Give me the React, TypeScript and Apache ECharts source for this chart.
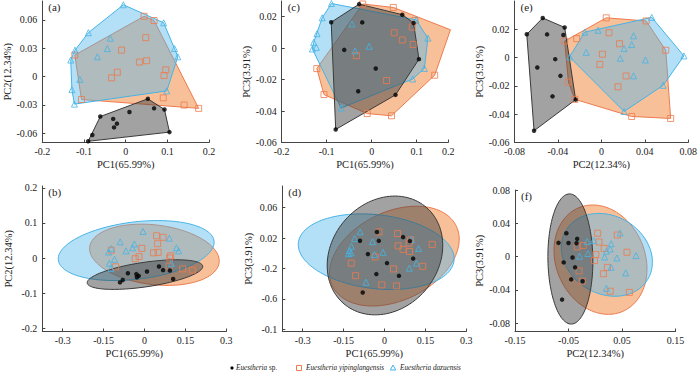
import React, { useEffect, useRef } from "react";
import * as echarts from "echarts";

// ---------- data: PC scores ----------
// Euestheria sp.
const spPC1 = [-0.028, 0.068, 0.093, -0.09, -0.021, 0.105, -0.061, 0.009, -0.03, 0.053, -0.08];
const spPC2 = [-0.054, -0.0338, -0.035, -0.0687, -0.05, -0.059, -0.0425, -0.0377, -0.045, -0.0237, -0.062];
const spPC3 = [0.028, 0.0213, 0.016, 0.0165, 0.0164, -0.007, -0.0011, -0.0129, -0.0274, -0.0297, -0.0517];
// Euestheria yipinglangensis
const yiPC1 = [0.044, 0.068, 0.048, -0.01, 0.033, 0.05, 0.096, 0.092, -0.02, -0.034, -0.122, -0.106, 0.09, 0.14, 0.175];
const yiPC2 = [0.0638, 0.0593, 0.0412, 0.0279, 0.0153, 0.0167, 0.007, 0.001, 0.0045, -0.0014, 0.0227, -0.0244, -0.0227, -0.0303, -0.0338];
const yiPC3 = [-0.043, 0.0052, 0.0259, -0.0416, -0.0206, 0.0098, 0.0176, 0.0024, 0.0281, -0.0048, -0.013, -0.0295, 0.0134, -0.0172, 0.0117];
// Euestheria dazuensis
const daPC1 = [-0.0056, 0.091, -0.0895, -0.037, -0.044, -0.068, -0.1215, -0.1318, 0.117, 0.125, -0.11, -0.129, -0.123, 0.0985];
const daPC2 = [0.076, 0.0569, 0.0464, 0.0405, 0.0296, 0.0209, 0.0279, 0.0174, 0.0296, 0.0209, -0.0031, -0.014, -0.0293, -0.0153];
const daPC3 = [0.0012, -0.0196, 0.0284, -0.0017, 0.0154, -0.0381, 0.0092, -0.0005, -0.0129, 0.0064, 0.0193, 0.0037, 0.0005, 0.018];

// ---------- tick values and labels ----------
const aXTicks = [-0.2, -0.1, 0, 0.1, 0.2];
const aXLabels = ["-0.2", "-0.1", "0", "0.1", "0.2"];
const aYTicks = [-0.06, -0.03, 0, 0.03, 0.06];
const aYLabels = ["-0.06", "-0.03", "0", "0.03", "0.06"];
const cXTicks = [-0.2, -0.1, 0, 0.1, 0.17];
const cXLabels = ["-0.2", "-0.1", "0", "0.1", "0.2"];
const cYTicks = [-0.06, -0.04, -0.02, 0, 0.02];
const cYLabels = ["-0.06", "-0.04", "-0.02", "0", "0.02"];
const eXTicks = [-0.08, -0.04, 0, 0.04, 0.08];
const eXLabels = ["-0.08", "-0.04", "0", "0.04", "0.08"];
const eYTicks = [-0.06, -0.04, -0.02, 0, 0.02];
const eYLabels = ["-0.06", "-0.04", "-0.02", "0", "0.02"];
const bXTicks = [-0.3, -0.15, 0, 0.15, 0.3];
const bXLabels = ["-0.3", "-0.15", "0", "0.15", "0.3"];
const bYTicks = [-0.2, -0.1, 0, 0.1, 0.2];
const bYLabels = ["-0.2", "-0.1", "0", "0.1", "0.2"];
const dYTicks = [-0.1, -0.06, -0.02, 0.02, 0.06];
const dYLabels = ["-0.1", "-0.6", "-0.2", "0.02", "0.06"];
const fXTicks = [-0.15, -0.05, 0.05, 0.15];
const fXLabels = ["-0.15", "-0.05", "0.05", "0.15"];
const fYTicks = [-0.08, -0.04, 0, 0.04, 0.08];
const fYLabels = ["-0.08", "-0.04", "0", "0.04", "0.08"];

const speciesNames = ["Euestheria sp.", "Euestheria yipinglangensis", "Euestheria dazuensis"];

const FONT = '"Liberation Serif", "Times New Roman", serif';
const ORANGE = "#EE7B4D";
const BLUE = "#45B4E6";
const TEXT = "#222";
const AXIS = "#444";

type Sp = {
  name: string;
  pcs: number[][];
  symbol: string;
  size: number;
  item: any;
  stroke: string;
  fill: string;
};

// drawing order: orange, blue, black
const species: Sp[] = [
  {
    name: speciesNames[1],
    pcs: [yiPC1, yiPC2, yiPC3],
    symbol: "rect",
    size: 6,
    item: { color: "rgba(0,0,0,0)", borderColor: ORANGE, borderWidth: 1 },
    stroke: ORANGE,
    fill: "rgba(242,135,60,0.52)",
  },
  {
    name: speciesNames[2],
    pcs: [daPC1, daPC2, daPC3],
    symbol: "triangle",
    size: 6,
    item: { color: "rgba(0,0,0,0)", borderColor: BLUE, borderWidth: 1 },
    stroke: BLUE,
    fill: "rgba(75,180,235,0.42)",
  },
  {
    name: speciesNames[0],
    pcs: [spPC1, spPC2, spPC3],
    symbol: "circle",
    size: 4.5,
    item: { color: "#000" },
    stroke: "#3a3a3a",
    fill: "rgba(60,60,60,0.48)",
  },
];

function convexHull(pts: number[][]) {
  const p = pts.slice().sort((a, b) => a[0] - b[0] || a[1] - b[1]);
  const cross = (o: number[], a: number[], b: number[]) =>
    (a[0] - o[0]) * (b[1] - o[1]) - (a[1] - o[1]) * (b[0] - o[0]);
  const lower: number[][] = [];
  for (const q of p) {
    while (lower.length >= 2 && cross(lower[lower.length - 2], lower[lower.length - 1], q) <= 0) lower.pop();
    lower.push(q);
  }
  const upper: number[][] = [];
  for (let i = p.length - 1; i >= 0; i--) {
    const q = p[i];
    while (upper.length >= 2 && cross(upper[upper.length - 2], upper[upper.length - 1], q) <= 0) upper.pop();
    upper.push(q);
  }
  upper.pop();
  lower.pop();
  return lower.concat(upper);
}

// 95% ellipse (F-distribution based, as in PAST)
function ellipsePts(xs: number[], ys: number[], steps = 120) {
  const n = xs.length;
  const mx = xs.reduce((s, v) => s + v, 0) / n;
  const my = ys.reduce((s, v) => s + v, 0) / n;
  let sxx = 0, syy = 0, sxy = 0;
  for (let i = 0; i < n; i++) {
    sxx += (xs[i] - mx) ** 2;
    syy += (ys[i] - my) ** 2;
    sxy += (xs[i] - mx) * (ys[i] - my);
  }
  sxx /= n - 1; syy /= n - 1; sxy /= n - 1;
  const m = n - 2;
  const F = (m / 2) * (Math.pow(0.05, -2 / m) - 1);
  const k = Math.sqrt(((2 * (n - 1)) / (n - 2)) * F);
  const tr = (sxx + syy) / 2;
  const d = Math.sqrt(((sxx - syy) / 2) ** 2 + sxy ** 2);
  const l1 = tr + d, l2 = Math.max(tr - d, 0);
  const th = 0.5 * Math.atan2(2 * sxy, sxx - syy);
  const a = k * Math.sqrt(l1), b = k * Math.sqrt(l2);
  const out: number[][] = [];
  for (let i = 0; i < steps; i++) {
    const t = (2 * Math.PI * i) / steps;
    out.push([
      mx + a * Math.cos(t) * Math.cos(th) - b * Math.sin(t) * Math.sin(th),
      my + a * Math.cos(t) * Math.sin(th) + b * Math.sin(t) * Math.cos(th),
    ]);
  }
  return out;
}

type Panel = {
  label: string; left: number; top: number; width: number; height: number;
  xMin: number; xMax: number; yMin: number; yMax: number;
  xTicks: number[]; xLabels: string[]; yTicks: number[]; yLabels: string[];
  xi: number; yi: number; xName: string; yName: string; kind: "hull" | "ellipse";
};

const panels: Panel[] = [
  { label: "(a)", left: 42.3, top: 1, width: 166.8, height: 141.5, xMin: -0.2, xMax: 0.2, yMin: -0.07, yMax: 0.08,
    xTicks: aXTicks, xLabels: aXLabels, yTicks: aYTicks, yLabels: aYLabels, xi: 0, yi: 1, xName: "PC1(65.99%)", yName: "PC2(12.34%)", kind: "hull" },
  { label: "(c)", left: 281.7, top: 1, width: 166.5, height: 141.5, xMin: -0.2, xMax: 0.17, yMin: -0.06, yMax: 0.03,
    xTicks: cXTicks, xLabels: cXLabels, yTicks: cYTicks, yLabels: cYLabels, xi: 0, yi: 2, xName: "PC1(65.99%)", yName: "PC3(3.91%)", kind: "hull" },
  { label: "(e)", left: 514.5, top: 1, width: 181.4, height: 141.5, xMin: -0.08, xMax: 0.08, yMin: -0.06, yMax: 0.04,
    xTicks: eXTicks, xLabels: eXLabels, yTicks: eYTicks, yLabels: eYLabels, xi: 1, yi: 2, xName: "PC2(12.34%)", yName: "PC3(3.91%)", kind: "hull" },
  { label: "(b)", left: 42.3, top: 186, width: 184, height: 145.5, xMin: -0.375, xMax: 0.3, yMin: -0.208, yMax: 0.205,
    xTicks: bXTicks, xLabels: bXLabels, yTicks: bYTicks, yLabels: bYLabels, xi: 0, yi: 1, xName: "PC1(65.99%)", yName: "PC2(12.34%)", kind: "ellipse" },
  { label: "(d)", left: 282.3, top: 186, width: 184, height: 145.5, xMin: -0.375, xMax: 0.3, yMin: -0.103, yMax: 0.0886,
    xTicks: bXTicks, xLabels: bXLabels, yTicks: dYTicks, yLabels: dYLabels, xi: 0, yi: 2, xName: "PC1(65.99%)", yName: "PC3(3.91%)", kind: "ellipse" },
  { label: "(f)", left: 515, top: 190, width: 160.5, height: 141.5, xMin: -0.15, xMax: 0.15, yMin: -0.09, yMax: 0.08,
    xTicks: fXTicks, xLabels: fXLabels, yTicks: fYTicks, yLabels: fYLabels, xi: 1, yi: 2, xName: "PC2(12.34%)", yName: "PC3(3.91%)", kind: "ellipse" },
];

function fmt(ticks: number[], labels: string[]) {
  return (v: number) => {
    const i = ticks.findIndex((t) => Math.abs(t - v) < 1e-9);
    return i >= 0 ? labels[i] : "";
  };
}

function buildOption() {
  const grid: any[] = [];
  const xAxis: any[] = [];
  const yAxis: any[] = [];
  const series: any[] = [];
  const graphic: any[] = [];

  panels.forEach((p, gi) => {
    grid.push({ left: p.left, top: p.top, width: p.width, height: p.height });
    const common = (ticks: number[], labels: string[]) => ({
      axisLine: { show: true, onZero: false, lineStyle: { color: AXIS, width: 1 } },
      axisTick: { show: true, inside: true, length: 3, customValues: ticks, lineStyle: { color: AXIS } },
      axisLabel: { customValues: ticks, formatter: fmt(ticks, labels), fontFamily: FONT, fontSize: 10, color: TEXT },
      splitLine: { show: false },
      nameLocation: "middle",
      nameTextStyle: { fontFamily: FONT, fontSize: 10.5, color: TEXT },
    });
    const xa: any = { type: "value", gridIndex: gi, min: p.xMin, max: p.xMax, name: p.xName, nameGap: 16, ...common(p.xTicks, p.xLabels) };
    xa.axisLabel.margin = 4;
    const ya: any = { type: "value", gridIndex: gi, min: p.yMin, max: p.yMax, name: p.yName, nameGap: 28, ...common(p.yTicks, p.yLabels) };
    ya.axisLabel.margin = 5;
    xAxis.push(xa);
    yAxis.push(ya);

    species.forEach((s) => {
      const xs = s.pcs[p.xi];
      const ys = s.pcs[p.yi];
      const shape = p.kind === "hull" ? convexHull(xs.map((v, i) => [v, ys[i]])) : ellipsePts(xs, ys);
      series.push({
        type: "custom",
        xAxisIndex: gi,
        yAxisIndex: gi,
        silent: true,
        data: [[xs[0], ys[0]]],
        renderItem: (_params: any, api: any) => ({
          type: "polygon",
          shape: { points: shape.map((q) => api.coord(q)) },
          style: { fill: s.fill, stroke: s.stroke, lineWidth: 1 },
        }),
      });
    });
    species.forEach((s) => {
      const xs = s.pcs[p.xi];
      const ys = s.pcs[p.yi];
      series.push({
        type: "scatter",
        name: s.name,
        xAxisIndex: gi,
        yAxisIndex: gi,
        silent: true,
        symbol: s.symbol,
        symbolSize: s.size,
        itemStyle: s.item,
        data: xs.map((v, i) => [v, ys[i]]),
      });
    });

    graphic.push({
      type: "text",
      x: p.left + 6,
      y: p.top + 6,
      style: { text: p.label, fontFamily: FONT, fontSize: 11, fill: TEXT, align: "left", verticalAlign: "middle" },
    });
  });

  // legend
  const ly = 368;
  const fs = 7.2;
  const rich = { i: { fontStyle: "italic", fontFamily: FONT, fontSize: fs, fill: TEXT } };
  graphic.push(
    { type: "circle", shape: { cx: 232, cy: ly, r: 1.6 }, style: { fill: "#000" } },
    { type: "text", x: 236, y: ly, style: { text: "{i|Euestheria} sp.", rich, fontFamily: FONT, fontSize: fs, fill: TEXT, align: "left", verticalAlign: "middle" } },
    { type: "rect", shape: { x: 296.5, y: ly - 2.5, width: 5, height: 5 }, style: { fill: "none", stroke: ORANGE, lineWidth: 1 } },
    { type: "text", x: 306, y: ly, style: { text: "{i|Euestheria yipinglangensis}", rich, fontFamily: FONT, fontSize: fs, fill: TEXT, align: "left", verticalAlign: "middle" } },
    { type: "polygon", shape: { points: [[393, ly - 3], [390.3, ly + 2], [395.7, ly + 2]] }, style: { fill: "none", stroke: BLUE, lineWidth: 1 } },
    { type: "text", x: 400, y: ly, style: { text: "{i|Euestheria dazuensis}", rich, fontFamily: FONT, fontSize: fs, fill: TEXT, align: "left", verticalAlign: "middle" } }
  );

  return {
    animation: false,
    backgroundColor: "#fff",
    textStyle: { fontFamily: FONT },
    grid,
    xAxis,
    yAxis,
    series,
    graphic,
  };
}

export default function App() {
  const ref = useRef<HTMLDivElement>(null);
  useEffect(() => {
    if (!ref.current) return;
    const chart = echarts.init(ref.current, undefined, { renderer: "svg" });
    chart.setOption(buildOption() as any);
    return () => chart.dispose();
  }, []);
  return <div ref={ref} style={{ position: "fixed", left: 0, top: 0, width: 700, height: 375 }} />;
}
